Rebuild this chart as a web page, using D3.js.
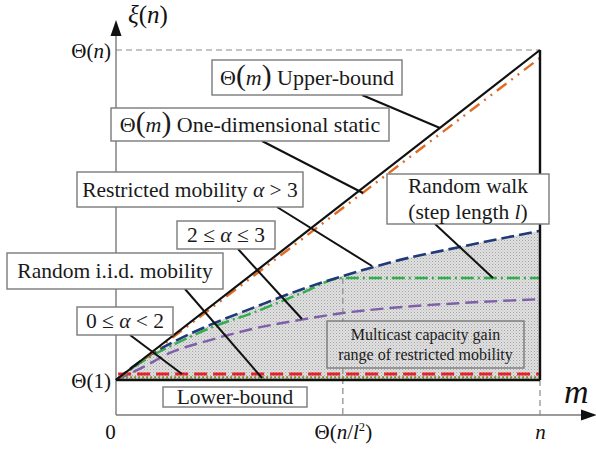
<!DOCTYPE html>
<html><head><meta charset="utf-8">
<script src="https://cdn.jsdelivr.net/npm/d3@7"></script>
<style>
html,body{margin:0;padding:0;background:#fff;}
svg{display:block;}
svg text{font-family:"Liberation Serif","Times New Roman",serif;}
</style></head>
<body>
<svg id="c" width="596" height="449"></svg>
<script>
// ---- data (m normalised: 0 .. n ; capacity normalised: Θ(1)=0 .. Θ(n)=1) ----
const xTickValues = [0, 0.535, 1];
const xTickLabels = ["0", "Θ(*n*/*l*^2^)", "*n*"];
const yTickValues = [0, 1];
const yTickLabels = ["Θ(1)", "Θ(*n*)"];

const upperBound = [[0, 0], [1, 1]];
const oneDimStatic = [[0.005, 0.003], [1, 0.976]];
const randomWalk = [[0,0],[0.080,0.076],[0.144,0.121],[0.222,0.167],[0.328,0.221],[0.434,0.273],[0.535,0.315],[0.606,0.342],[0.670,0.364],[0.811,0.403],[1,0.452]];
const alphaGt3 = [[0,0],[0.080,0.070],[0.144,0.112],[0.229,0.161],[0.328,0.206],[0.434,0.261],[0.535,0.309],[0.75,0.309],[1,0.309]];
const alpha2to3 = [[0,0],[0.064,0.039],[0.127,0.082],[0.222,0.121],[0.333,0.158],[0.434,0.182],[0.535,0.203],[0.646,0.218],[0.811,0.233],[1,0.245]];
const alpha0to2 = [[0.005, 0.018], [1, 0.018]];
const iidMobility = [[0.005, 0.008], [1, 0.008]];
const lowerBound = [[0, 0], [1, 0]];

const labelTexts = [
  ["Θ[(]*m*[)] Upper-bound"],
  ["Θ[(]*m*[)] One-dimensional static"],
  ["Restricted mobility *α* > 3"],
  ["2 ≤ *α* ≤ 3"],
  ["Random i.i.d. mobility"],
  ["0 ≤ *α* < 2"],
  ["Lower-bound"],
  ["Random walk", "(step length *l*)"],
  ["Multicast capacity gain", "range of restricted mobility"]
];

// ---- layout ----
const FONT = '"Liberation Serif","Times New Roman",serif';
const svg = d3.select("#c");
const x = d3.scaleLinear().domain([0, 1]).range([116, 540]);
const y = d3.scaleLinear().domain([0, 1]).range([380, 50]);
const axisY = 415, axisTop = 20, axisRight = 597;

const defs = svg.append("defs");
const pat = defs.append("pattern").attr("id", "dots").attr("patternUnits", "userSpaceOnUse")
  .attr("width", 3).attr("height", 3);
pat.append("rect").attr("width", 3).attr("height", 3).attr("fill", "#e0e0e0");
pat.append("rect").attr("x", 0).attr("y", 0).attr("width", 1).attr("height", 1).attr("fill", "#a4a4a4");
pat.append("rect").attr("x", 1.5).attr("y", 1.5).attr("width", 1).attr("height", 1).attr("fill", "#b8b8b8");

// markup renderer: *x* italic, [x] big, ^x^ superscript
function rich(textSel, str, size) {
  textSel.attr("font-family", FONT);
  const parts = str.split(/(\*[^*]+\*|\[[^\]]+\]|\^[^^]+\^)/).filter(s => s.length);
  let back = 0;
  parts.forEach(p => {
    const t = textSel.append("tspan");
    if (back) { t.attr("dy", back); back = 0; }
    if (p[0] === "*") t.text(p.slice(1, -1)).attr("font-style", "italic");
    else if (p[0] === "[") t.text(p.slice(1, -1)).attr("font-size", size * 1.35);
    else if (p[0] === "^") { t.text(p.slice(1, -1)).attr("font-size", size * 0.6).attr("dy", -size * 0.4); back = size * 0.4; }
    else t.text(p);
  });
}

// shaded range
const area = d3.area().x(d => x(d[0])).y0(y(0)).y1(d => y(d[1])).curve(d3.curveMonotoneX);
svg.append("path").datum(randomWalk).attr("d", area).attr("fill", "url(#dots)");

// guide lines
const guide = svg.append("g").attr("stroke", "#8a8a8a").attr("stroke-width", 1.2).attr("stroke-dasharray", "6,4").attr("fill", "none");
guide.append("line").attr("x1", x(0)).attr("x2", x(1)).attr("y1", y(1)).attr("y2", y(1));
guide.append("line").attr("x1", x(xTickValues[1])).attr("x2", x(xTickValues[1])).attr("y1", y(alphaGt3[6][1])).attr("y2", axisY);
guide.append("line").attr("x1", x(1)).attr("x2", x(1)).attr("y1", y(0)).attr("y2", axisY);

// axes
const xAxis = d3.axisBottom(x).tickValues(xTickValues).tickSize(0).tickPadding(0).tickFormat(() => "");
const gx = svg.append("g").attr("transform", `translate(0,${axisY})`).call(xAxis);
gx.select(".domain").remove();
gx.selectAll(".tick").each(function(d, i) {
  const t = d3.select(this).append("text").attr("y", 24).attr("fill", "#111")
    .attr("font-size", 21).attr("text-anchor", "middle").attr("dx", i === 0 ? -6 : 0);
  rich(t, xTickLabels[i], 21);
});
const yAxis = d3.axisLeft(y).tickValues(yTickValues).tickSize(0).tickPadding(0).tickFormat(() => "");
const gy = svg.append("g").attr("transform", `translate(${x(0)},0)`).call(yAxis);
gy.select(".domain").remove();
gy.selectAll(".tick").each(function(d, i) {
  const t = d3.select(this).append("text").attr("x", -5).attr("y", 7).attr("fill", "#111")
    .attr("font-size", 21).attr("text-anchor", "end");
  rich(t, yTickLabels[i], 21);
});
svg.append("line").attr("x1", x(0)).attr("x2", x(0)).attr("y1", axisY).attr("y2", axisTop + 12).attr("stroke", "#7a7a7a").attr("stroke-width", 1.4);
svg.append("line").attr("x1", x(0)).attr("x2", axisRight - 12).attr("y1", axisY).attr("y2", axisY).attr("stroke", "#7a7a7a").attr("stroke-width", 1.4);
svg.append("path").attr("d", `M${x(0)},${axisTop}L${x(0)-5.5},${axisTop+16}L${x(0)+5.5},${axisTop+16}Z`).attr("fill", "#111");
svg.append("path").attr("d", `M${axisRight},${axisY}L${axisRight-16},${axisY-5.5}L${axisRight-16},${axisY+5.5}Z`).attr("fill", "#111");
const xi = svg.append("text").attr("x", 128).attr("y", 23).attr("font-size", 25).attr("fill", "#111");
rich(xi, "*ξ*(*n*)", 25);
const mlab = svg.append("text").attr("x", 564).attr("y", 403).attr("font-size", 34).attr("fill", "#111");
rich(mlab, "*m*", 34);

// curves
const line = d3.line().x(d => x(d[0])).y(d => y(d[1])).curve(d3.curveMonotoneX);
const series = [
  {d: iidMobility, c: "#7d8b2e", w: 2.2, dash: "2,2"},
  {d: alpha0to2, c: "#e5212b", w: 3, dash: "13,6"},
  {d: alpha2to3, c: "#7e5fa8", w: 2.4, dash: "13,6"},
  {d: alphaGt3, c: "#2fae4a", w: 2.4, dash: "13,4,2,4"},
  {d: randomWalk, c: "#1e3a78", w: 2.6, dash: "13,5"},
  {d: oneDimStatic, c: "#e06a22", w: 2.4, dash: "12,6,2,6,2,6"},
];
series.forEach(s => svg.append("path").datum(s.d).attr("d", line).attr("fill", "none")
  .attr("stroke", s.c).attr("stroke-width", s.w).attr("stroke-dasharray", s.dash));
svg.append("path").datum(upperBound).attr("d", line).attr("fill", "none").attr("stroke", "#111").attr("stroke-width", 2.2);
svg.append("path").datum(lowerBound).attr("d", line).attr("fill", "none").attr("stroke", "#111").attr("stroke-width", 2.6);
svg.append("line").attr("x1", x(1)).attr("x2", x(1)).attr("y1", y(1)).attr("y2", y(0)).attr("stroke", "#111").attr("stroke-width", 2.4);

// leader lines
const leaders = [
  [362, 95, 440, 128], [262, 141, 363, 193], [277, 207, 372, 266], [238, 249, 302, 319],
  [185, 289, 262, 378], [130, 335, 182, 374], [435, 224, 493, 278]
];
leaders.forEach(l => svg.append("line").attr("x1", l[0]).attr("y1", l[1]).attr("x2", l[2]).attr("y2", l[3])
  .attr("stroke", "#111").attr("stroke-width", 2));

// labelled boxes
const boxes = [
  [212, 60, 190, 35, 22], [111, 108, 278, 33, 22], [77, 172, 226, 35, 21.5], [177, 221, 98, 28, 21.5],
  [7, 253, 216, 36, 21.5], [77, 307, 96, 28, 21.5], [163, 387, 144, 20, 21.5], [387, 174, 162, 50, 21.5],
  [327, 321, 197, 47, 16]
];
boxes.forEach((b, i) => {
  const g = svg.append("g");
  g.append("rect").attr("x", b[0]).attr("y", b[1]).attr("width", b[2]).attr("height", b[3])
    .attr("fill", i === 8 ? "url(#dots)" : "#fff").attr("stroke", "#7a7a7a").attr("stroke-width", 1.4);
  const lines = labelTexts[i];
  const lh = b[4] * 1.2;
  lines.forEach((s, j) => {
    const cy = b[1] + b[3] / 2 + (j - (lines.length - 1) / 2) * lh;
    const t = g.append("text").attr("x", b[0] + b[2] / 2).attr("y", cy + b[4] * 0.34)
      .attr("text-anchor", "middle").attr("font-size", b[4]).attr("fill", "#1a1a1a");
    rich(t, s, b[4]);
  });
});
</script>
</body></html>
